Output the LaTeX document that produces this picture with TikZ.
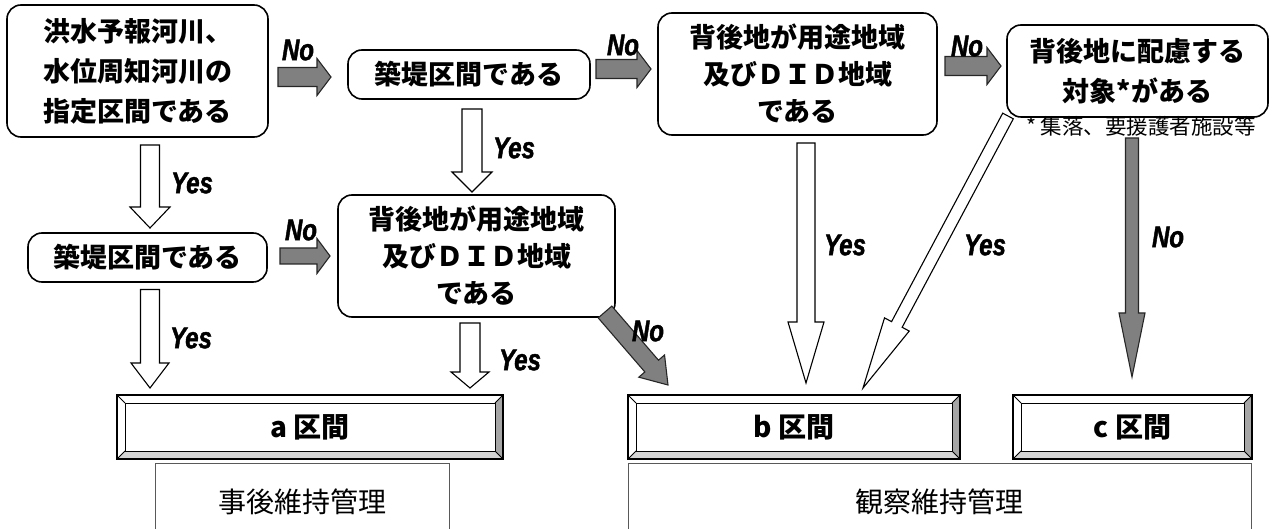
\documentclass[tikz,border=0pt]{standalone}
\usepackage{fontspec}
\usetikzlibrary{calc}
\newfontfamily\jpfont{Noto Sans CJK JP}
\newfontfamily\ynfont[FakeStretch=0.8, BoldItalicFeatures={FakeBold=1.5}]{Liberation Sans}
\definecolor{nogray}{HTML}{808080}
\definecolor{bevelR}{HTML}{A6A6A6}
\definecolor{bevelB}{HTML}{D4D4D4}

% block arrow: [style]{from}{tip}{half shaft}{half head}{head length}
\newcommand{\blockarrow}[6][]{%
  \coordinate (ba-s) at (#2);
  \coordinate (ba-t) at (#3);
  \coordinate (ba-q) at ($(ba-t)!#6!(ba-s)$);
  \draw[#1] ($(ba-s)!#4!90:(ba-t)$) -- ($(ba-q)!#4!-90:(ba-s)$) -- ($(ba-q)!#5!-90:(ba-s)$) -- (ba-t)
    -- ($(ba-q)!#5!90:(ba-s)$) -- ($(ba-q)!#4!90:(ba-s)$) -- ($(ba-s)!#4!-90:(ba-t)$) -- cycle;
}
% bevel frame round a section node
\newcommand{\bevel}[1]{%
  \fill[bevelR] (#1.north east) -- (#1.south east) -- ($(#1.south east)+(-8,-8)$) -- ($(#1.north east)+(-8,8)$) -- cycle;
  \fill[bevelB] (#1.south west) -- (#1.south east) -- ($(#1.south east)+(-8,-8)$) -- ($(#1.south west)+(8,-8)$) -- cycle;
  \draw[line width=0.8pt] (#1.north west) -- +(8,8) (#1.south west) -- +(8,-8) (#1.north east) -- +(-8,8) (#1.south east) -- +(-8,-8);
  \draw[line width=0.8pt] ($(#1.north west)+(8,8)$) rectangle ($(#1.south east)+(-8,-8)$);
  \draw[line width=1.4pt] (#1.north west) rectangle (#1.south east);
}

\tikzset{
  qbox/.style={draw, line width=1.6pt, rounded corners=14pt, fill=white, align=center, inner sep=0pt, outer sep=0pt,
    font=\jpfont\bfseries\fontsize{27}{37}\selectfont},
  secbox/.style={fill=white, inner sep=0pt, outer sep=0pt, minimum height=64pt,
    font=\jpfont\bfseries\fontsize{28}{30}\selectfont},
  mgmtbox/.style={draw=black!65, line width=0.9pt, fill=white, inner sep=0pt, minimum height=77pt,
    font=\jpfont\fontsize{28}{30}\selectfont},
  yesarrow/.style={draw=black, fill=white, line width=1.1pt, line join=miter},
  noarrow/.style={draw=black!85, fill=nogray, line width=1.1pt, line join=miter},
  yn/.style={font=\ynfont\bfseries\itshape\fontsize{30}{32}\selectfont, inner sep=0pt},
}

\begin{document}
\begin{tikzpicture}[x=1pt, y=-1pt]
\useasboundingbox (0,0) rectangle (1272,529);
\clip (0,0) rectangle (1272,529);

% questions
\node[qbox, minimum width=261pt, minimum height=132pt, font=\jpfont\bfseries\fontsize{27}{40}\selectfont] (q1) at (137.5,71) {洪水予報河川、\\水位周知河川の\\指定区間である};
\node[qbox, minimum width=242pt, minimum height=49pt] (q2) at (469,74.5) {築堤区間である};
\node[qbox, minimum width=279pt, minimum height=122pt] (q3) at (797.5,74) {背後地が用途地域\\及びＤＩＤ地域\\である};
\node[qbox, minimum width=261pt, minimum height=92pt, font=\jpfont\bfseries\fontsize{27}{40}\selectfont] (q4) at (1137.5,71) {背後地に配慮する\\対象*がある};
\node[qbox, minimum width=239pt, minimum height=49pt] (q5) at (147.5,257.5) {築堤区間である};
\node[qbox, minimum width=277pt, minimum height=122pt] (q6) at (476.5,256) {背後地が用途地域\\及びＤＩＤ地域\\である};
\node[font=\jpfont\fontsize{21.5}{23}\selectfont, inner sep=0pt] (note) at (1141,126) {* 集落、要援護者施設等};

% sections
\node[secbox, minimum width=386pt] (a) at (310,427) {a 区間};
\node[secbox, minimum width=332pt] (b) at (794,427) {b 区間};
\node[secbox, minimum width=239pt] (c) at (1132.5,427) {c 区間};
\bevel{a}
\bevel{b}
\bevel{c}
\node[mgmtbox, minimum width=294pt] (m1) at (302,501.5) {事後維持管理};
\node[mgmtbox, minimum width=623pt] (m2) at (939.5,501.5) {観察維持管理};

% No arrows
\blockarrow[noarrow]{$(q1.east)+(10,6)$}{$(q2.west)+(-17,2.5)$}{9.5pt}{18.5pt}{14pt}
\blockarrow[noarrow]{$(q2.east)+(6,-5.5)$}{$(q3.west)+(-7,-5)$}{9.5pt}{18.5pt}{14pt}
\blockarrow[noarrow]{$(q3.east)+(8,-8)$}{$(q4.west)+(-6,-5)$}{9.5pt}{18.5pt}{14pt}
\blockarrow[noarrow]{$(q5.east)+(13,-1.5)$}{$(q6.west)+(-8,0)$}{8pt}{17.5pt}{13pt}
\blockarrow[noarrow]{$(q6.south east)+(-10,-5)$}{$(b.north west)+(40,-10)$}{9pt}{17pt}{25pt}
\blockarrow[noarrow]{$(q4.south)+(-5.5,21)$}{$(c.north)+(-0.5,-18)$}{6.5pt}{13pt}{64pt}

% Yes arrows
\blockarrow[yesarrow]{$(q1.south)+(12.5,8)$}{$(q5.north)+(2.5,-5)$}{9.5pt}{20pt}{21pt}
\blockarrow[yesarrow]{$(q2.south)+(3,10)$}{$(q6.north)+(-4.5,-3)$}{10pt}{20pt}{20pt}
\blockarrow[yesarrow]{$(q5.south)+(2.5,7.5)$}{$(a.north west)+(33,-7)$}{9.5pt}{19pt}{25pt}
\blockarrow[yesarrow]{$(q6.south)+(-6.5,6)$}{$(a.north east)+(-33,-7)$}{10pt}{19pt}{16pt}
\blockarrow[yesarrow]{$(q3.south)+(8.5,8)$}{$(b.north)+(12,-12)$}{9pt}{18pt}{61pt}
\blockarrow[yesarrow]{$(q4.south west)+(1,-1)$}{$(b.north)+(69,-7)$}{6pt}{14pt}{72pt}

% labels
\node[yn] (ln1) at (298,50) {No};
\node[yn] (ln2) at (623,45) {No};
\node[yn] (ln3) at (967,46) {No};
\node[yn] (ln4) at (301,230) {No};
\node[yn] (ln5) at (648,331) {No};
\node[yn] (ln6) at (1168,237) {No};
\node[yn] (ly1) at (192,183) {Yes};
\node[yn] (ly2) at (514,148) {Yes};
\node[yn] (ly3) at (191,338) {Yes};
\node[yn] (ly4) at (520,360) {Yes};
\node[yn] (ly5) at (845,245) {Yes};
\node[yn] (ly6) at (985,245) {Yes};
\end{tikzpicture}
\end{document}
